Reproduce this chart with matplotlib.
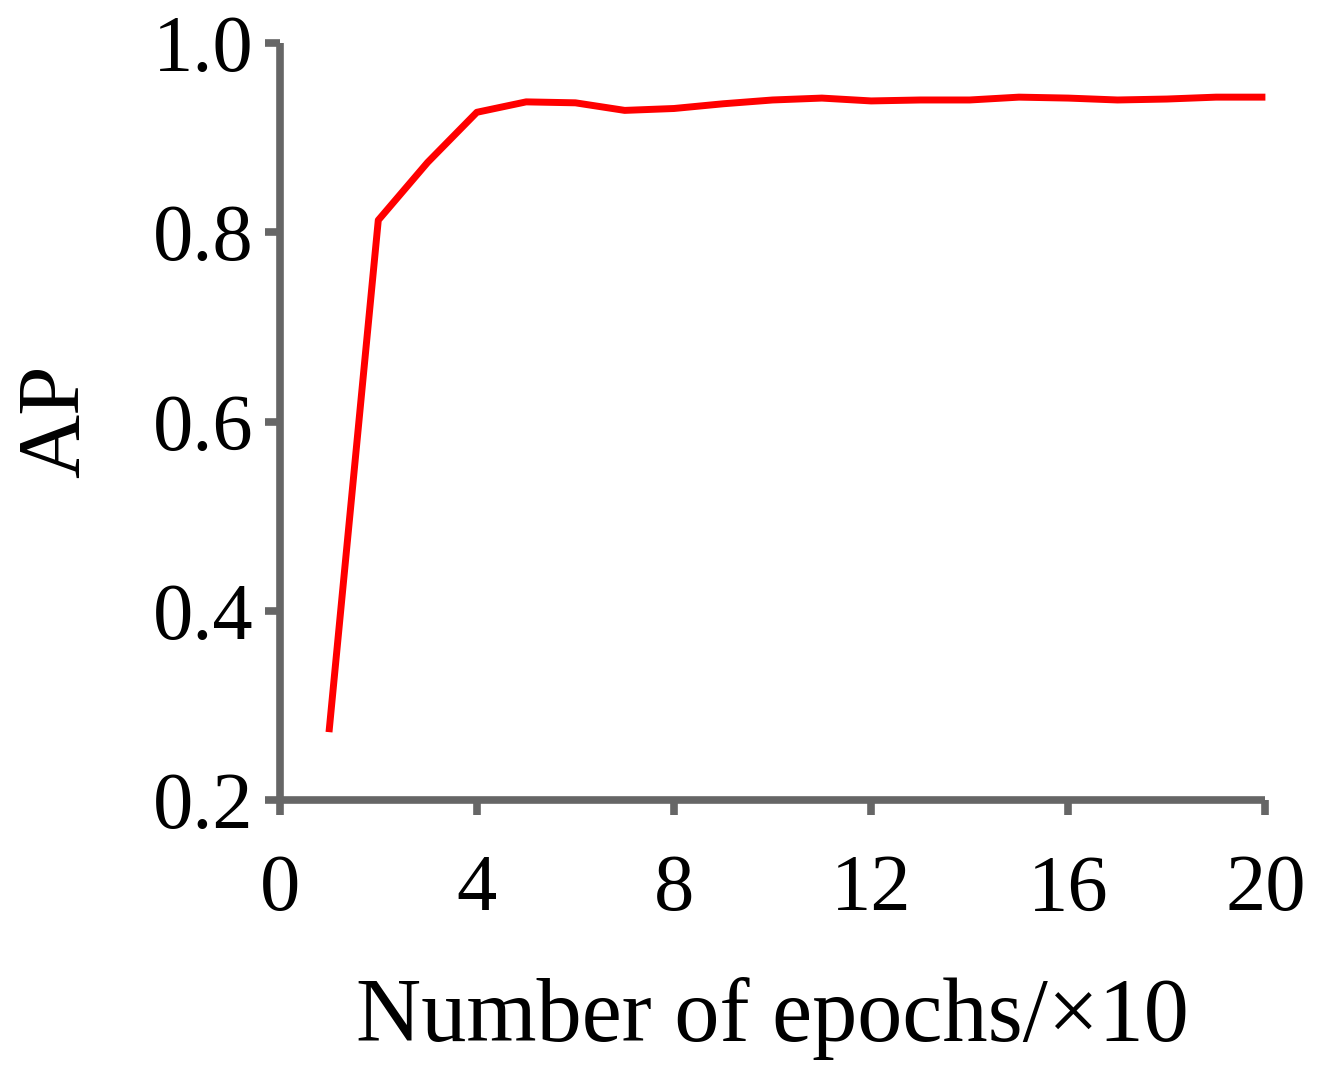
import matplotlib
matplotlib.use("Agg")
import matplotlib.pyplot as plt

epochs = list(range(1, 21))
ap = [0.272, 0.813, 0.874, 0.927, 0.938, 0.937, 0.929, 0.931, 0.936, 0.940,
      0.942, 0.939, 0.940, 0.940, 0.943, 0.942, 0.940, 0.941, 0.943, 0.943]
xticks = [0, 4, 8, 12, 16, 20]
yticks = [0.2, 0.4, 0.6, 0.8, 1.0]

plt.rcParams['font.family'] = ['Liberation Serif', 'DejaVu Serif']
gray = '#666666'

fig = plt.figure(figsize=(13.32, 10.8), dpi=100)
ax = fig.add_axes([0.21, 0.259, 0.74, 0.701])
ax.plot(epochs, ap, color='red', lw=5, clip_on=False, solid_capstyle='butt')
ax.set_xlim(0, 20)
ax.set_ylim(0.2, 1.0)
ax.set_xticks(xticks)
ax.set_yticks(yticks)
ax.set_yticklabels(['%.1f' % v for v in yticks])
for s in ['top', 'right']:
    ax.spines[s].set_visible(False)
for s in ['left', 'bottom']:
    ax.spines[s].set_color(gray)
    ax.spines[s].set_linewidth(5.5)
    ax.spines[s].set_capstyle('butt')
ax.tick_params(axis='both', colors=gray, width=5.5, length=11, labelsize=58, labelcolor='black')
ax.tick_params(axis='x', pad=28)
ax.tick_params(axis='y', pad=8)
ax.set_xlabel('Number of epochs/×10', fontsize=65, labelpad=36)
ax.set_ylabel('AP', fontsize=64, labelpad=40)
fig.savefig('out.png', dpi=100)
